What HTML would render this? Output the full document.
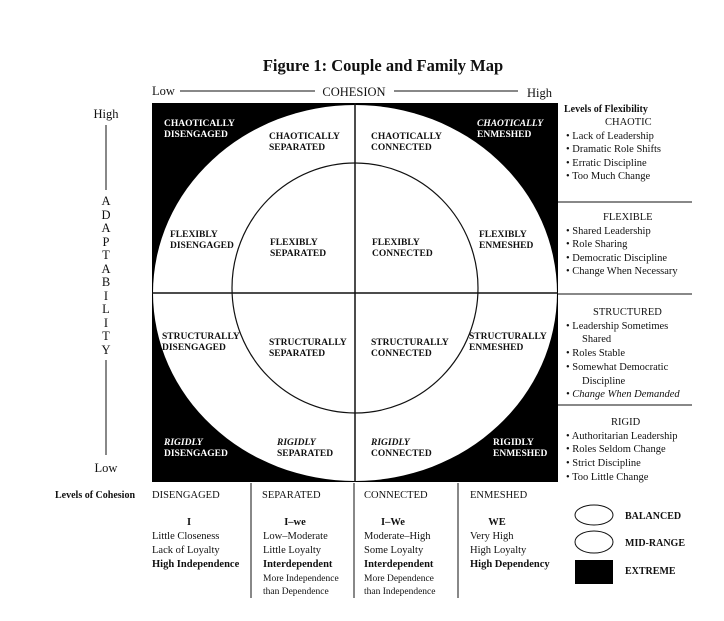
<!DOCTYPE html>
<html><head><meta charset="utf-8"><style>
html,body{margin:0;padding:0;background:#fff;}
svg{display:block;}
text{font-family:"Liberation Serif",serif;fill:#111;}
.b{font-weight:bold;font-size:9.5px;}
.w{fill:#fff;}
.r{font-size:10.5px;}
</style></head><body>
<svg width="724" height="621" viewBox="0 0 724 621" xmlns="http://www.w3.org/2000/svg">
<text x="383" y="71" text-anchor="middle" font-size="16.5" font-weight="bold">Figure 1:  Couple and Family Map</text>
<text x="152" y="95" font-size="12.5">Low</text>
<line x1="180" y1="91" x2="315" y2="91" stroke="#111"/>
<text x="354" y="96" text-anchor="middle" font-size="12.5">COHESION</text>
<line x1="394" y1="91" x2="518" y2="91" stroke="#111"/>
<text x="527" y="97" font-size="12.5">High</text>

<text x="106" y="118" text-anchor="middle" font-size="12.5">High</text>
<line x1="106" y1="125" x2="106" y2="190" stroke="#111"/>
<g font-size="12.5" text-anchor="middle">
<text x="106" y="205">A</text><text x="106" y="219">D</text><text x="106" y="232">A</text><text x="106" y="246">P</text><text x="106" y="259">T</text><text x="106" y="273">A</text><text x="106" y="286">B</text><text x="106" y="300">I</text><text x="106" y="313">L</text><text x="106" y="327">I</text><text x="106" y="340">T</text><text x="106" y="354">Y</text>
</g>
<line x1="106" y1="360" x2="106" y2="455" stroke="#111"/>
<text x="106" y="472" text-anchor="middle" font-size="12.5">Low</text>

<rect x="152" y="103" width="406" height="379" fill="#000"/>
<ellipse cx="355" cy="293" rx="202" ry="188" fill="#fff"/>
<ellipse cx="355" cy="288" rx="123" ry="125" fill="none" stroke="#111" stroke-width="1.2"/>
<line x1="355" y1="103" x2="355" y2="482" stroke="#111" stroke-width="1.5"/>
<line x1="152" y1="293" x2="558" y2="293" stroke="#111" stroke-width="1.5"/>

<text class="b w" x="164" y="126">CHAOTICALLY</text><text class="b w" x="164" y="137">DISENGAGED</text>
<text class="b" x="269" y="139">CHAOTICALLY</text><text class="b" x="269" y="150">SEPARATED</text>
<text class="b" x="371" y="139">CHAOTICALLY</text><text class="b" x="371" y="150">CONNECTED</text>
<text class="b w" x="477" y="126" font-style="italic">CHAOTICALLY</text><text class="b w" x="477" y="137">ENMESHED</text>
<text class="b" x="170" y="237">FLEXIBLY</text><text class="b" x="170" y="248">DISENGAGED</text>
<text class="b" x="270" y="245">FLEXIBLY</text><text class="b" x="270" y="256">SEPARATED</text>
<text class="b" x="372" y="245">FLEXIBLY</text><text class="b" x="372" y="256">CONNECTED</text>
<text class="b" x="479" y="237">FLEXIBLY</text><text class="b" x="479" y="248">ENMESHED</text>
<text class="b" x="162" y="339">STRUCTURALLY</text><text class="b" x="162" y="350">DISENGAGED</text>
<text class="b" x="269" y="345">STRUCTURALLY</text><text class="b" x="269" y="356">SEPARATED</text>
<text class="b" x="371" y="345">STRUCTURALLY</text><text class="b" x="371" y="356">CONNECTED</text>
<text class="b" x="469" y="339">STRUCTURALLY</text><text class="b" x="469" y="350">ENMESHED</text>
<text class="b w" x="164" y="445" font-style="italic">RIGIDLY</text><text class="b w" x="164" y="456">DISENGAGED</text>
<text class="b" x="277" y="445" font-style="italic">RIGIDLY</text><text class="b" x="277" y="456">SEPARATED</text>
<text class="b" x="371" y="445" font-style="italic">RIGIDLY</text><text class="b" x="371" y="456">CONNECTED</text>
<text class="b w" x="493" y="445">RIGIDLY</text><text class="b w" x="493" y="456">ENMESHED</text>

<g font-size="10.5">
<text x="564" y="112" font-weight="bold" font-size="10">Levels of Flexibility</text>
<text x="605" y="125">CHAOTIC</text>
<text x="566" y="139">•  Lack of Leadership</text>
<text x="566" y="152">•  Dramatic Role Shifts</text>
<text x="566" y="166">•  Erratic Discipline</text>
<text x="566" y="179">•  Too Much Change</text>
<line x1="558" y1="202" x2="692" y2="202" stroke="#111"/>
<text x="603" y="220">FLEXIBLE</text>
<text x="566" y="234">•  Shared Leadership</text>
<text x="566" y="247">•  Role Sharing</text>
<text x="566" y="261">•  Democratic Discipline</text>
<text x="566" y="274">•  Change When Necessary</text>
<line x1="558" y1="294" x2="692" y2="294" stroke="#111"/>
<text x="593" y="315">STRUCTURED</text>
<text x="566" y="329">•  Leadership Sometimes</text>
<text x="582" y="342">Shared</text>
<text x="566" y="356">•  Roles Stable</text>
<text x="566" y="370">•  Somewhat Democratic</text>
<text x="582" y="384">Discipline</text>
<text x="566" y="397" font-style="italic">•  Change When Demanded</text>
<line x1="558" y1="405" x2="692" y2="405" stroke="#111"/>
<text x="611" y="425">RIGID</text>
<text x="566" y="439">•  Authoritarian Leadership</text>
<text x="566" y="452">•  Roles Seldom Change</text>
<text x="566" y="466">•  Strict Discipline</text>
<text x="566" y="480">•  Too Little Change</text>
</g>

<text x="55" y="498" font-size="10" font-weight="bold">Levels of Cohesion</text>
<g font-size="10.5">
<text x="152" y="498">DISENGAGED</text>
<text x="262" y="498">SEPARATED</text>
<text x="364" y="498">CONNECTED</text>
<text x="470" y="498">ENMESHED</text>
<text x="189" y="525" text-anchor="middle" font-weight="bold">I</text>
<text x="152" y="539">Little Closeness</text>
<text x="152" y="553">Lack of Loyalty</text>
<text x="152" y="567" font-weight="bold">High Independence</text>
<text x="295" y="525" text-anchor="middle" font-weight="bold">I–we</text>
<text x="263" y="539">Low–Moderate</text>
<text x="263" y="553">Little Loyalty</text>
<text x="263" y="567" font-weight="bold">Interdependent</text>
<text x="263" y="581" font-size="9.5">More Independence</text>
<text x="263" y="594" font-size="9.5">than Dependence</text>
<text x="393" y="525" text-anchor="middle" font-weight="bold">I–We</text>
<text x="364" y="539">Moderate–High</text>
<text x="364" y="553">Some Loyalty</text>
<text x="364" y="567" font-weight="bold">Interdependent</text>
<text x="364" y="581" font-size="9.5">More Dependence</text>
<text x="364" y="594" font-size="9.5">than Independence</text>
<text x="497" y="525" text-anchor="middle" font-weight="bold">WE</text>
<text x="470" y="539">Very High</text>
<text x="470" y="553">High Loyalty</text>
<text x="470" y="567" font-weight="bold">High Dependency</text>
</g>
<line x1="251" y1="483" x2="251" y2="598" stroke="#111"/>
<line x1="354" y1="483" x2="354" y2="598" stroke="#111"/>
<line x1="458" y1="483" x2="458" y2="598" stroke="#111"/>

<ellipse cx="594" cy="515" rx="19" ry="10" fill="none" stroke="#111"/>
<ellipse cx="594" cy="542" rx="19" ry="11" fill="none" stroke="#111"/>
<rect x="575" y="560" width="38" height="24" fill="#000"/>
<g font-size="10" font-weight="bold">
<text x="625" y="519">BALANCED</text>
<text x="625" y="546">MID-RANGE</text>
<text x="625" y="574">EXTREME</text>
</g>
</svg>
</body></html>
